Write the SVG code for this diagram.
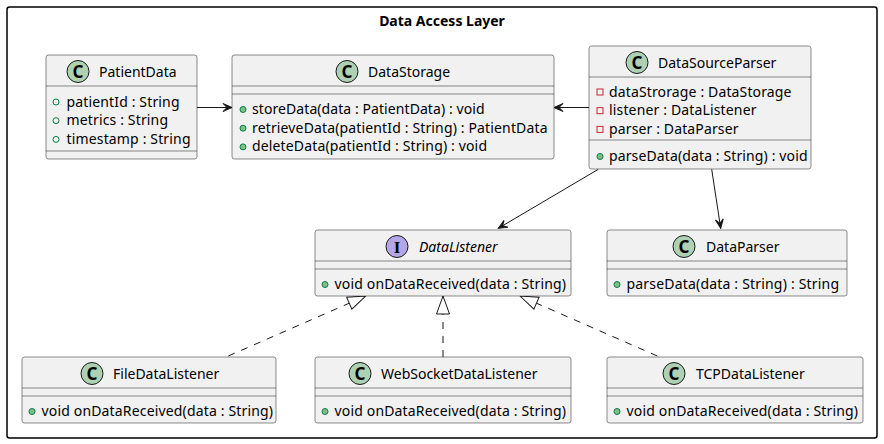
<svg xmlns="http://www.w3.org/2000/svg" width="884" height="444" viewBox="0 0 884 444">
<defs>
<style>
.box{fill:#F1F1F1;stroke:#181818;stroke-width:0.5}
.sep{stroke:#181818;stroke-width:0.5}
.t{font-family:"Noto Sans","DejaVu Sans",sans-serif;font-size:14px;fill:#000000}
.ti{font-style:italic}
.ci{fill:#ADD1B2;stroke:#181818;stroke-width:1}
.ii{fill:#B4A7E5;stroke:#181818;stroke-width:1}
.cg{font-family:"Noto Sans","DejaVu Sans",sans-serif;font-size:17px;font-weight:bold;fill:#000000;text-anchor:middle}
.ig{font-family:"Liberation Serif",serif;font-size:17px;font-weight:bold;fill:#000000;text-anchor:middle}
.pm{fill:#84BE84;stroke:#038048;stroke-width:1}
.pf{fill:none;stroke:#038048;stroke-width:1}
.pr{fill:none;stroke:#C82930;stroke-width:1}
.ln{fill:none;stroke:#181818;stroke-width:1}
.dash{stroke-dasharray:7,7}
.pkg{fill:none;stroke:#000000;stroke-width:1.5}
.ptitle{font-family:"Noto Sans","DejaVu Sans",sans-serif;font-size:14px;font-weight:bold;fill:#000000;text-anchor:middle}
</style>
<marker id="arr" markerUnits="userSpaceOnUse" viewBox="0 0 11 9" refX="10" refY="4.5" markerWidth="11" markerHeight="9" orient="auto">
<path d="M10,4.5 L1,0.5 L5,4.5 L1,8.5 Z" fill="#181818" stroke="#181818" stroke-width="1"/>
</marker>
<marker id="tri" markerUnits="userSpaceOnUse" viewBox="0 0 20 15" refX="19" refY="7.5" markerWidth="20" markerHeight="15" orient="auto">
<path d="M19,7.5 L1,1 L1,14 Z" fill="#FFFFFF" stroke="#181818" stroke-width="1" stroke-dasharray="none"/>
</marker>
</defs>
<rect width="884" height="444" fill="#FFFFFF"/>
<g id="package">
<rect class="pkg" x="7" y="7" width="870" height="431" rx="2.5" ry="2.5"/>
<text class="ptitle" x="442" y="26">Data Access Layer</text>
</g>
<g id="connectors">
<line class="ln" x1="197" y1="107.5" x2="232" y2="107.5" marker-end="url(#arr)"/>
<line class="ln" x1="589" y1="107.5" x2="554" y2="107.5" marker-end="url(#arr)"/>
<line class="ln" x1="598.3" y1="169.3" x2="498.3" y2="228.3" marker-end="url(#arr)"/>
<line class="ln" x1="711.7" y1="169.3" x2="720.7" y2="228.3" marker-end="url(#arr)"/>
<line class="ln dash" x1="228.3" y1="356" x2="365.7" y2="296" marker-end="url(#tri)"/>
<line class="ln dash" x1="443" y1="357" x2="443" y2="296" marker-end="url(#tri)"/>
<line class="ln dash" x1="657.3" y1="356" x2="520" y2="296" marker-end="url(#tri)"/>
</g>
<g id="PatientData">
<rect class="box" x="46" y="55" width="151" height="104" rx="2.5" ry="2.5"/>
<circle class="ci" cx="78" cy="71.5" r="11"/>
<text class="cg" x="78" y="77.5">C</text>
<text class="t" x="99" y="77">PatientData</text>
<line class="sep" x1="46" y1="86" x2="197" y2="86"/>
<circle class="pf" cx="56" cy="102" r="3"/>
<text class="t" x="66.5" y="106.5" textLength="113" lengthAdjust="spacing">patientId : String</text>
<circle class="pf" cx="56" cy="120.7" r="3"/>
<text class="t" x="66.5" y="125.2" textLength="101.5" lengthAdjust="spacing">metrics : String</text>
<circle class="pf" cx="56" cy="139.4" r="3"/>
<text class="t" x="66.5" y="143.9" textLength="124" lengthAdjust="spacing">timestamp : String</text>
<line class="sep" x1="46" y1="151" x2="197" y2="151"/>
</g>
<g id="DataStorage">
<rect class="box" x="232" y="55" width="322" height="104" rx="2.5" ry="2.5"/>
<circle class="ci" cx="347" cy="71.5" r="11"/>
<text class="cg" x="347" y="77.5">C</text>
<text class="t" x="368" y="77">DataStorage</text>
<line class="sep" x1="232" y1="86" x2="554" y2="86"/>
<line class="sep" x1="232" y1="94" x2="554" y2="94"/>
<circle class="pm" cx="243" cy="109.5" r="3"/>
<text class="t" x="252" y="114" textLength="232.5" lengthAdjust="spacing">storeData(data : PatientData) : void</text>
<circle class="pm" cx="243" cy="128.2" r="3"/>
<text class="t" x="252" y="132.7" textLength="295.5" lengthAdjust="spacing">retrieveData(patientId : String) : PatientData</text>
<circle class="pm" cx="243" cy="146.9" r="3"/>
<text class="t" x="252" y="151.4" textLength="235" lengthAdjust="spacing">deleteData(patientId : String) : void</text>
</g>
<g id="DataSourceParser">
<rect class="box" x="589" y="46" width="222" height="123" rx="2.5" ry="2.5"/>
<circle class="ci" cx="637" cy="62.5" r="11"/>
<text class="cg" x="637" y="68.5">C</text>
<text class="t" x="658" y="68">DataSourceParser</text>
<line class="sep" x1="589" y1="77" x2="811" y2="77"/>
<rect class="pr" x="597" y="89" width="6" height="6"/>
<text class="t" x="609" y="96.5" textLength="182.5" lengthAdjust="spacing">dataStrorage : DataStorage</text>
<rect class="pr" x="597" y="107.7" width="6" height="6"/>
<text class="t" x="609" y="115.2" textLength="147.5" lengthAdjust="spacing">listener : DataListener</text>
<rect class="pr" x="597" y="126.4" width="6" height="6"/>
<text class="t" x="609" y="133.9" textLength="129.5" lengthAdjust="spacing">parser : DataParser</text>
<line class="sep" x1="589" y1="140" x2="811" y2="140"/>
<circle class="pm" cx="600" cy="156.5" r="3"/>
<text class="t" x="609" y="161" textLength="198.5" lengthAdjust="spacing">parseData(data : String) : void</text>
</g>
<g id="DataListener">
<rect class="box" x="315" y="230" width="256" height="66" rx="2.5" ry="2.5"/>
<circle class="ii" cx="397" cy="246.5" r="11"/>
<text class="ig" x="397" y="252.5">I</text>
<text class="t ti" x="419" y="252">DataListener</text>
<line class="sep" x1="315" y1="261" x2="571" y2="261"/>
<line class="sep" x1="315" y1="269" x2="571" y2="269"/>
<circle class="pm" cx="325" cy="284.5" r="3"/>
<text class="t" x="334.5" y="289" textLength="231.5" lengthAdjust="spacing">void onDataReceived(data : String)</text>
</g>
<g id="DataParser">
<rect class="box" x="607" y="230" width="240" height="66" rx="2.5" ry="2.5"/>
<circle class="ci" cx="684" cy="246.5" r="11"/>
<text class="cg" x="684" y="252.5">C</text>
<text class="t" x="706" y="252">DataParser</text>
<line class="sep" x1="607" y1="261" x2="847" y2="261"/>
<line class="sep" x1="607" y1="269" x2="847" y2="269"/>
<circle class="pm" cx="617" cy="284.5" r="3"/>
<text class="t" x="626.5" y="289" textLength="212.5" lengthAdjust="spacing">parseData(data : String) : String</text>
</g>
<g id="FileDataListener">
<rect class="box" x="22" y="357" width="254" height="66" rx="2.5" ry="2.5"/>
<circle class="ci" cx="92" cy="373.5" r="11"/>
<text class="cg" x="92" y="379.5">C</text>
<text class="t" x="113" y="379">FileDataListener</text>
<line class="sep" x1="22" y1="388" x2="276" y2="388"/>
<line class="sep" x1="22" y1="396" x2="276" y2="396"/>
<circle class="pm" cx="32" cy="411.5" r="3"/>
<text class="t" x="41.5" y="416" textLength="231.5" lengthAdjust="spacing">void onDataReceived(data : String)</text>
</g>
<g id="WebSocketDataListener">
<rect class="box" x="315" y="357" width="256" height="66" rx="2.5" ry="2.5"/>
<circle class="ci" cx="360" cy="373.5" r="11"/>
<text class="cg" x="360" y="379.5">C</text>
<text class="t" x="381" y="379">WebSocketDataListener</text>
<line class="sep" x1="315" y1="388" x2="571" y2="388"/>
<line class="sep" x1="315" y1="396" x2="571" y2="396"/>
<circle class="pm" cx="325" cy="411.5" r="3"/>
<text class="t" x="334.5" y="416" textLength="231.5" lengthAdjust="spacing">void onDataReceived(data : String)</text>
</g>
<g id="TCPDataListener">
<rect class="box" x="607" y="357" width="256" height="66" rx="2.5" ry="2.5"/>
<circle class="ci" cx="674" cy="373.5" r="11"/>
<text class="cg" x="674" y="379.5">C</text>
<text class="t" x="696" y="379">TCPDataListener</text>
<line class="sep" x1="607" y1="388" x2="863" y2="388"/>
<line class="sep" x1="607" y1="396" x2="863" y2="396"/>
<circle class="pm" cx="617" cy="411.5" r="3"/>
<text class="t" x="626.5" y="416" textLength="231.5" lengthAdjust="spacing">void onDataReceived(data : String)</text>
</g>
</svg>
